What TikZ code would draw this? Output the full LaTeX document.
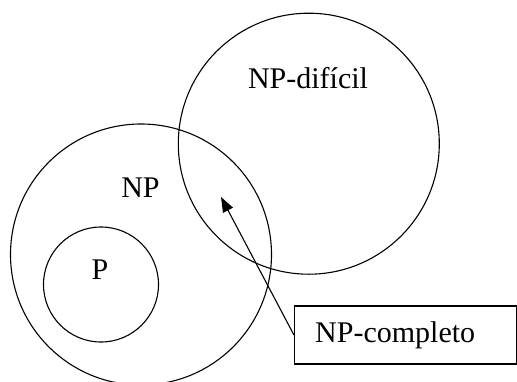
\documentclass[tikz,border=0pt]{standalone}
\usepackage{fontspec}
\setmainfont{Liberation Serif}
\usetikzlibrary{arrows.meta}
\begin{document}
\begin{tikzpicture}[x=1pt,y=-1pt,
  set/.style={draw,line width=1.1pt,circle,inner sep=0pt},
  lbl/.style={font=\fontsize{30}{36}\selectfont,inner sep=0pt},
  boxed/.style={draw,line width=1.1pt,minimum width=222pt,minimum height=58pt,inner sep=0pt}]
\useasboundingbox (0,0) rectangle (517,381);
\node[set,minimum size=261pt] (np) at (141,254.5) {};
\node[set,minimum size=261pt] (nph) at (308.8,143.7) {};
\node[set,minimum size=115pt] (p) at (101,284.5) {};
\node[lbl] (npl) at (140.5,188) {NP};
\node[lbl] (nphl) at (308,78) {NP-difícil};
\node[lbl] (pl) at (100,270) {P};
\node[boxed] (npc) at (405.5,335) {};
\node[lbl,anchor=west] (npct) at (315,335) {NP-completo};
\coordinate (tip) at (221,197);
\draw[line width=1.1pt,-{Triangle[length=15pt,width=11pt]}] (npc.west) -- (tip);
\end{tikzpicture}
\end{document}
